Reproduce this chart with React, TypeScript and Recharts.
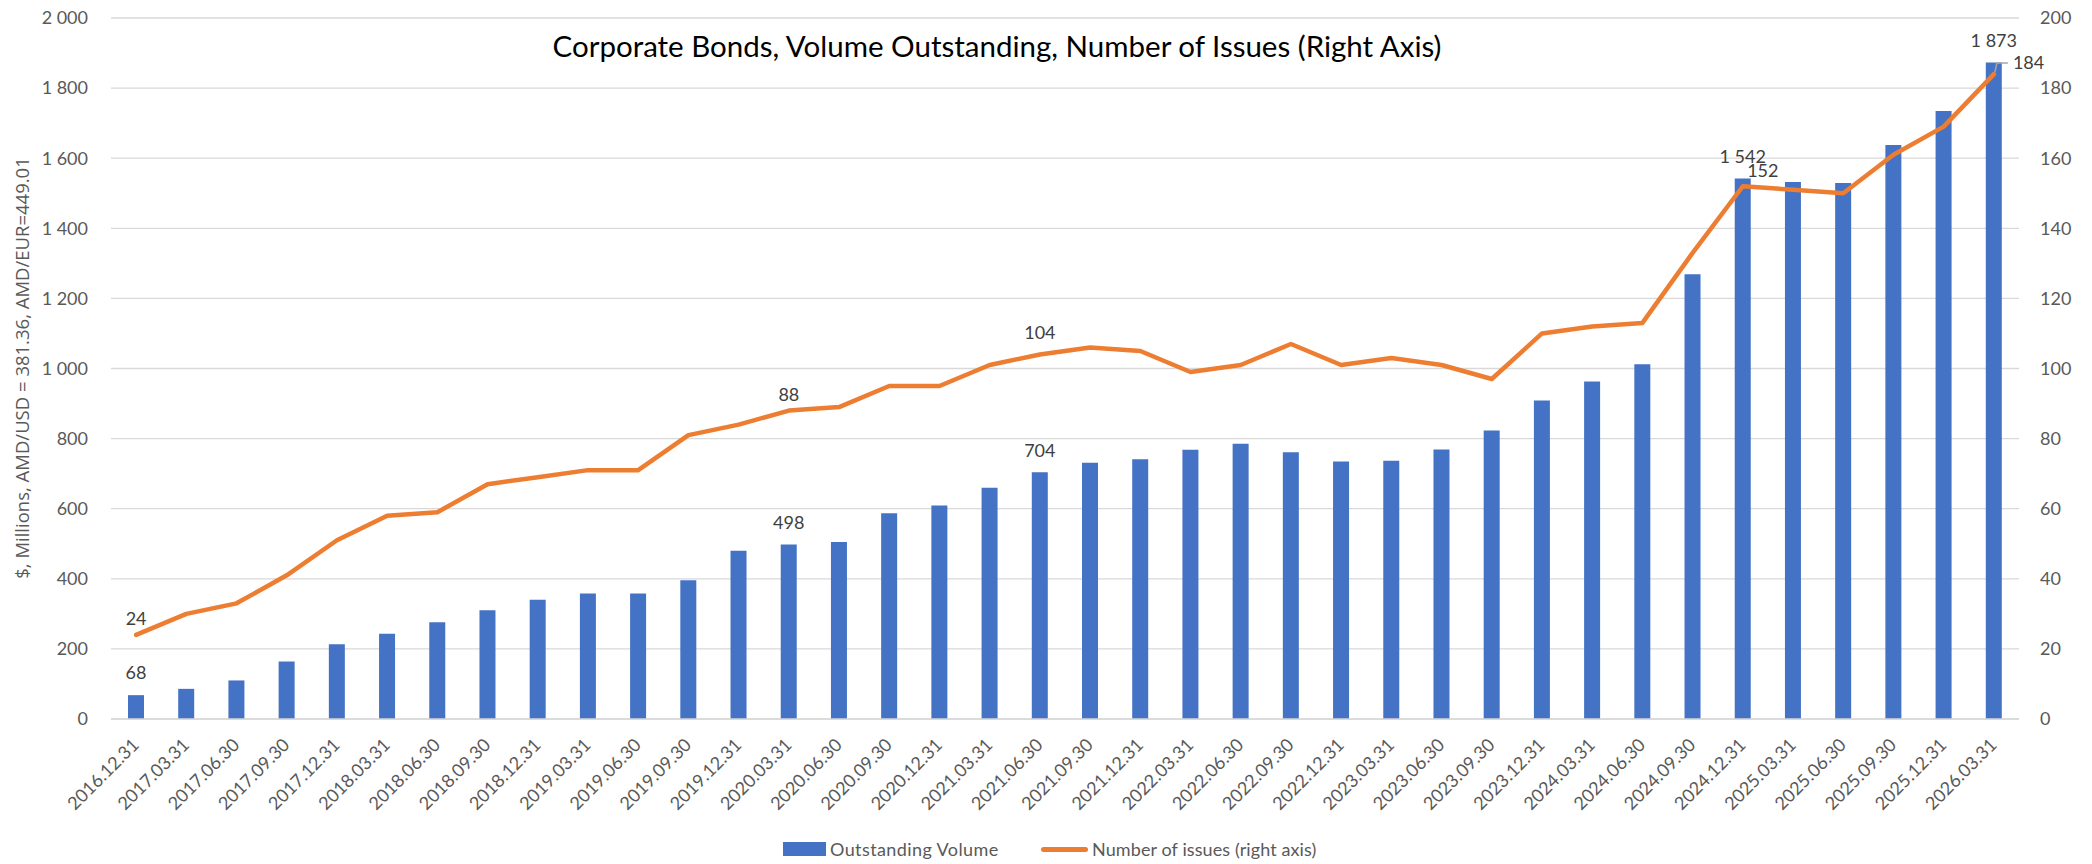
import React from "react"
import {
  ComposedChart,
  Bar,
  Line,
  XAxis,
  YAxis,
  CartesianGrid,
  LabelList,
} from "recharts"

const periods = [
  "2016.12.31", "2017.03.31", "2017.06.30", "2017.09.30", "2017.12.31",
  "2018.03.31", "2018.06.30", "2018.09.30", "2018.12.31", "2019.03.31",
  "2019.06.30", "2019.09.30", "2019.12.31", "2020.03.31", "2020.06.30",
  "2020.09.30", "2020.12.31", "2021.03.31", "2021.06.30", "2021.09.30",
  "2021.12.31", "2022.03.31", "2022.06.30", "2022.09.30", "2022.12.31",
  "2023.03.31", "2023.06.30", "2023.09.30", "2023.12.31", "2024.03.31",
  "2024.06.30", "2024.09.30", "2024.12.31", "2025.03.31", "2025.06.30",
  "2025.09.30", "2025.12.31", "2026.03.31",
]

const outstandingVolume = [
  68, 86, 110, 164, 213, 243, 276, 310, 340, 358,
  358, 396, 480, 498, 505, 587, 609, 660, 704, 731,
  741, 768, 785, 761, 735, 737, 769, 823, 909, 963,
  1012, 1269, 1542, 1532, 1529, 1638, 1735, 1873,
]

const numberOfIssues = [
  24, 30, 33, 41, 51, 58, 59, 67, 69, 71,
  71, 81, 84, 88, 89, 95, 95, 101, 104, 106,
  105, 99, 101, 107, 101, 103, 101, 97, 110, 112,
  113, 133, 152, 151, 150, 161, 169, 184,
]

// which points carry a data label
const labelled = [0, 13, 18, 32, 37]

const leftTicks = [0, 200, 400, 600, 800, 1000, 1200, 1400, 1600, 1800, 2000]
const rightTicks = [0, 20, 40, 60, 80, 100, 120, 140, 160, 180, 200]

const data = periods.map((name, i) => ({
  name,
  volume: outstandingVolume[i],
  issues: numberOfIssues[i],
  volumeLabel: labelled.includes(i) ? outstandingVolume[i] : null,
  issuesLabel: labelled.includes(i) ? numberOfIssues[i] : null,
}))

const FONT = "Lato, 'Open Sans', sans-serif"
const AXIS_TEXT = "#595959"
const LABEL_TEXT = "#404040"

const fmt = (v: number) => String(v).replace(/\B(?=(\d{3})+(?!\d))/g, " ")

const XTick = ({ x, y, payload }: any) => {
  const ax = x + 4
  const ay = y + 25
  return (
    <text
      x={ax}
      y={ay}
      transform={`rotate(-45, ${ax}, ${ay})`}
      textAnchor="end"
      fontSize={18}
      fontFamily={FONT}
      fill={AXIS_TEXT}
    >
      {payload.value}
    </text>
  )
}

const LeftTick = ({ x, y, payload }: any) => (
  <text x={x - 21} y={y} dy="0.35em" textAnchor="end" fontSize={18} fontFamily={FONT} fill={AXIS_TEXT}>
    {fmt(payload.value)}
  </text>
)

const RightTick = ({ x, y, payload }: any) => (
  <text x={x + 19} y={y} dy="0.35em" textAnchor="start" fontSize={18} fontFamily={FONT} fill={AXIS_TEXT}>
    {payload.value}
  </text>
)

const BarLabel = (props: any) => {
  const { x, y, width, value } = props
  if (value == null) return null
  return (
    <text
      x={x + width / 2}
      y={y - 22}
      dy="0.35em"
      textAnchor="middle"
      fontSize={18}
      fontFamily={FONT}
      fill={LABEL_TEXT}
    >
      {fmt(value)}
    </text>
  )
}

const LineLabel = (props: any) => {
  const { x, y, value, index } = props
  if (value == null) return null
  if (index === periods.length - 1) {
    // last point: label pulled to the right with a leader line
    return (
      <g>
        <path d={`M${x + 1},${y - 2} L${x + 3},${y - 11} L${x + 14},${y - 11}`} stroke="#A6A6A6" fill="none" strokeWidth={1.5} />
        <text x={x + 19} y={y - 11} dy="0.35em" textAnchor="start" fontSize={18} fontFamily={FONT} fill={LABEL_TEXT}>
          {value}
        </text>
      </g>
    )
  }
  const dx = index === 32 ? 20 : 0
  const up = index === 18 ? 22 : 16
  return (
    <text x={x + dx} y={y - up} dy="0.35em" textAnchor="middle" fontSize={18} fontFamily={FONT} fill={LABEL_TEXT}>
      {value}
    </text>
  )
}

const AxisTitle = () => (
  <text
    x={23}
    y={368}
    transform="rotate(-90, 23, 368)"
    textAnchor="middle"
    dy="0.35em"
    fontSize={18.5}
    fontFamily="'Open Sans', sans-serif"
    fill={AXIS_TEXT}
  >
    $, Millions, AMD/USD = 381.36, AMD/EUR=449.01
  </text>
)

export default function App() {
  const legendText = { position: "absolute" as const, top: 0, fontSize: 18, lineHeight: "24px", color: AXIS_TEXT, whiteSpace: "nowrap" as const }
  return (
    <div style={{ position: "absolute", left: 0, top: 0, width: 2092, height: 864, background: "#fff", fontFamily: FONT }}>
      <ComposedChart width={2092} height={864} data={data} margin={{ top: 18, right: 0, bottom: 0, left: 0 }}>
        <CartesianGrid vertical={false} stroke="#D9D9D9" strokeWidth={1.3} yAxisId="left" />
        <XAxis
          dataKey="name"
          height={145}
          interval={0}
          tickLine={false}
          tickSize={0}
          axisLine={{ stroke: "#D9D9D9", strokeWidth: 1.3 }}
          tick={<XTick />}
        />
        <YAxis
          yAxisId="left"
          width={111}
          domain={[0, 2000]}
          ticks={leftTicks}
          axisLine={false}
          tickLine={false}
          tickSize={0}
          tick={<LeftTick />}
          label={{ content: () => <AxisTitle /> }}
        />
        <YAxis
          yAxisId="right"
          orientation="right"
          width={73}
          domain={[0, 200]}
          ticks={rightTicks}
          axisLine={false}
          tickLine={false}
          tickSize={0}
          tick={<RightTick />}
        />
        <Bar yAxisId="left" dataKey="volume" fill="#4472C4" barSize={16} isAnimationActive={false}>
          <LabelList dataKey="volumeLabel" content={<BarLabel />} />
        </Bar>
        <Line
          yAxisId="right"
          type="linear"
          dataKey="issues"
          stroke="#ED7D31"
          strokeWidth={4.5}
          strokeLinejoin="round"
          strokeLinecap="round"
          dot={false}
          activeDot={false}
          isAnimationActive={false}
        >
          <LabelList dataKey="issuesLabel" content={<LineLabel />} />
        </Line>
      </ComposedChart>

      <div
        style={{
          position: "absolute",
          left: 0,
          width: 1994,
          top: 27,
          textAlign: "center",
          fontSize: 29.5,
          color: "#000",
          lineHeight: "38px",
        }}
      >
        Corporate Bonds, Volume Outstanding, Number of Issues (Right Axis)
      </div>

      {/* legend */}
      <div style={{ position: "absolute", top: 837, left: 0, width: 2092, height: 24 }}>
        <span style={{ position: "absolute", left: 783, top: 5, width: 43, height: 14, background: "#4472C4" }} />
        <span style={{ ...legendText, left: 830, letterSpacing: 0.4 }}>Outstanding Volume</span>
        <span style={{ position: "absolute", left: 1041, top: 10, width: 47, height: 5, borderRadius: 3, background: "#ED7D31" }} />
        <span style={{ ...legendText, left: 1092, letterSpacing: 0.1 }}>Number of issues (right axis)</span>
      </div>
    </div>
  )
}
